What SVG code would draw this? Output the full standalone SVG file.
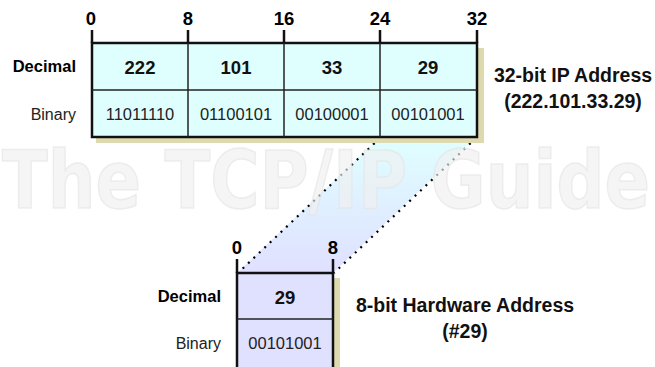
<svg xmlns="http://www.w3.org/2000/svg" width="655" height="367" viewBox="0 0 655 367">
<defs>
<linearGradient id="band" x1="0" y1="137" x2="0" y2="273" gradientUnits="userSpaceOnUse">
<stop offset="0" stop-color="#DFFFFF"/>
<stop offset="1" stop-color="#E0E0FF"/>
</linearGradient>
</defs>
<style>
.wm{font-family:"DejaVu Sans","Liberation Sans",sans-serif;font-weight:bold;font-size:80px;fill:#F0F0F0;fill-opacity:0.65;stroke:#E2E2E2;stroke-opacity:0.6;stroke-width:1.5}
.tick{font-family:"Liberation Sans",Arial,sans-serif;font-weight:bold;font-size:18.5px;fill:#000;text-anchor:middle}
.rowb{font-family:"Liberation Sans",Arial,sans-serif;font-weight:bold;font-size:16.5px;fill:#000;text-anchor:end}
.rown{font-family:"Liberation Sans",Arial,sans-serif;font-size:16px;fill:#222;text-anchor:end}
.dec{font-family:"Liberation Sans",Arial,sans-serif;font-weight:bold;font-size:18.5px;fill:#111;text-anchor:middle}
.bin{font-family:"Liberation Sans",Arial,sans-serif;font-size:16.5px;fill:#222;text-anchor:middle}
.cap{font-family:"Liberation Sans",Arial,sans-serif;font-weight:bold;font-size:19.5px;fill:#111;text-anchor:middle}
.box{stroke:#111;stroke-width:2.5}
.line{stroke:#222;stroke-width:1.5;fill:none}
.tk{stroke:#111;stroke-width:2.5}
.shadow{fill:#DEDAB0}
.dot{stroke:#000;stroke-width:2.2;stroke-dasharray:2 5.5;fill:none}
</style>
<rect width="655" height="367" fill="#FFFFFF"/>

<g id="connectors">
<polygon points="380,137 476,137 333,273 237,273" fill="url(#band)"/>
<line class="dot" x1="380" y1="138" x2="238" y2="273"/>
<line class="dot" x1="476" y1="138" x2="334" y2="273"/>
</g>

<text class="wm" x="2" y="208" textLength="648" lengthAdjust="spacingAndGlyphs">The TCP/IP Guide</text>

<g id="ip-address">
<rect class="shadow" x="96" y="137" width="388" height="6"/>
<rect class="shadow" x="477" y="48" width="7" height="95"/>
<rect class="box" x="92" y="43" width="385" height="94" fill="#DFFFFF"/>
<line class="line" x1="92" y1="90" x2="477" y2="90"/>
<line class="line" x1="188" y1="43" x2="188" y2="137"/>
<line class="line" x1="284" y1="43" x2="284" y2="137"/>
<line class="line" x1="380" y1="43" x2="380" y2="137"/>
<line class="tk" x1="92" y1="30" x2="92" y2="43"/>
<line class="tk" x1="188" y1="30" x2="188" y2="43"/>
<line class="tk" x1="284" y1="30" x2="284" y2="43"/>
<line class="tk" x1="380" y1="30" x2="380" y2="43"/>
<line class="tk" x1="477" y1="30" x2="477" y2="43"/>
<text class="tick" x="91" y="25">0</text>
<text class="tick" x="188" y="25">8</text>
<text class="tick" x="284" y="25">16</text>
<text class="tick" x="380" y="25">24</text>
<text class="tick" x="477" y="25">32</text>
<text class="rowb" x="76" y="72">Decimal</text>
<text class="rown" x="76" y="120">Binary</text>
<text class="dec" x="140" y="74">222</text>
<text class="dec" x="236" y="74">101</text>
<text class="dec" x="332" y="74">33</text>
<text class="dec" x="428" y="74">29</text>
<text class="bin" x="140" y="120">11011110</text>
<text class="bin" x="236" y="120">01100101</text>
<text class="bin" x="332" y="120">00100001</text>
<text class="bin" x="428" y="120">00101001</text>
<text class="cap" x="573" y="82">32-bit IP Address</text>
<text class="cap" x="573" y="108">(222.101.33.29)</text>
</g>

<g id="hw-address">
<rect class="shadow" x="333" y="278" width="7" height="92"/>
<rect class="box" x="237" y="273" width="96" height="96" fill="#E0E0FF"/>
<line class="line" x1="237" y1="319" x2="333" y2="319"/>
<line class="tk" x1="237" y1="259" x2="237" y2="273"/>
<line class="tk" x1="333" y1="259" x2="333" y2="273"/>
<text class="tick" x="237" y="254">0</text>
<text class="tick" x="333" y="254">8</text>
<text class="rowb" x="221" y="302">Decimal</text>
<text class="rown" x="221" y="349">Binary</text>
<text class="dec" x="285" y="304">29</text>
<text class="bin" x="285" y="349">00101001</text>
<text class="cap" x="465" y="312">8-bit Hardware Address</text>
<text class="cap" x="465" y="338">(#29)</text>
</g>
</svg>
